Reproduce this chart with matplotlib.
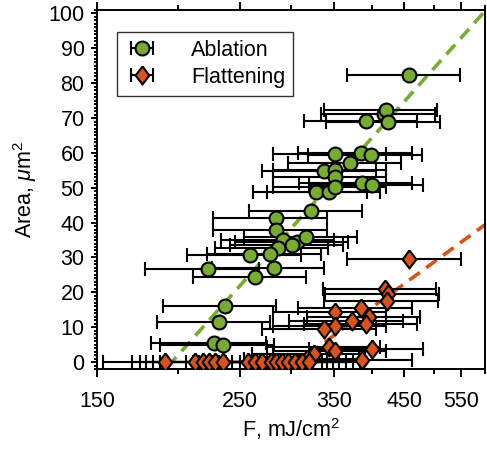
import numpy as np
import matplotlib
matplotlib.use("Agg")
import matplotlib.pyplot as plt
from matplotlib.ticker import FixedLocator, FixedFormatter, NullFormatter, MultipleLocator

plt.rcParams['font.family'] = ['Liberation Sans', 'DejaVu Sans']
plt.rcParams['mathtext.fontset'] = 'custom'
plt.rcParams['mathtext.rm'] = 'Liberation Sans'
plt.rcParams['mathtext.it'] = 'Liberation Sans:italic'

# ablation data (fluence, area, fluence error)
abl_F = [457, 418, 421, 425, 392,
         351, 385, 399, 371, 338, 351, 351, 386, 400, 328, 344, 351,
         322, 284, 284, 292, 307, 317, 301, 286, 259, 278, 223, 282, 264,
         237, 232, 228, 235]
abl_A = [82.3, 71.3, 72.3, 69.0, 69.1,
         59.6, 59.9, 59.4, 57.0, 54.9, 55.1, 53.2, 51.3, 50.7, 48.7, 48.9, 50.1,
         43.4, 41.3, 38.0, 35.1, 34.4, 35.9, 33.7, 32.8, 30.6, 30.9, 26.8, 27.1, 24.5,
         16.1, 11.6, 5.6, 4.9]
abl_err = [91, 84, 84, 85, 78,
           70, 77, 80, 74, 68, 70, 70, 77, 80, 66, 69, 70,
           64, 57, 57, 58, 61, 63, 60, 57, 52, 56, 45, 56, 53,
           47, 46, 46, 47]

# flattening data
fla_F = [458, 420, 424, 423, 351, 385, 373, 397, 351, 338, 392, 344, 351, 400, 326, 318, 386,
         191, 213, 219, 224, 229, 235, 257, 264, 270, 279, 284, 290, 297, 304, 312, 320]
fla_A = [29.6, 20.9, 19.4, 17.5, 14.3, 15.6, 11.9, 12.8, 10.4, 9.5, 11.0, 4.2, 3.2, 3.7, 2.4, 0.9, 0.5,
         0, 0, 0, 0, 0, 0, 0, 0, 0, 0, 0, 0, 0, 0, 0, 0]
fla_err = [92, 84, 85, 85, 70, 77, 75, 79, 70, 68, 78, 69, 70, 80, 65, 64, 77,
           38, 43, 44, 45, 46, 47, 51, 53, 54, 56, 57, 58, 59, 61, 62, 64]

# log fits: A = k * ln(F / F_th)
abl_k, abl_Fth = 90.0, 196.0
fla_k, fla_Fth = 58.8, 307.0

x_ticks = [150, 250, 350, 450, 550]
x_minor = [200, 300, 400, 500, 600]

green = '#77AC30'
orange = '#D95319'

fig = plt.figure(figsize=(4.87, 4.49), dpi=100)
ax = fig.add_axes([97/487, 1 - 369/449, 388/487, 359/449])

xa = np.linspace(193, 600, 200)
ax.plot(xa, abl_k * np.log(xa / abl_Fth), color=green, lw=2.6, ls=(0, (3.6, 2.2)), zorder=1)
xf = np.linspace(300, 600, 200)
ax.plot(xf, fla_k * np.log(xf / fla_Fth), color=orange, lw=2.6, ls=(0, (3.6, 2.2)), zorder=1)

diamond = [(0, 1), (0.76, 0), (0, -1), (-0.76, 0), (0, 1)]
eb = dict(ecolor='black', elinewidth=1.5, capsize=4.8, capthick=1.5)

ax.errorbar(abl_F, abl_A, xerr=abl_err, fmt='o', ms=10, mfc=green, mec='black', mew=1.5,
            label='Ablation', zorder=3, **eb)
ax.errorbar(fla_F, fla_A, xerr=fla_err, fmt='none', zorder=3, **eb)
ax.plot(fla_F, fla_A, ls='none', marker=diamond, ms=13, mfc=orange, mec='black', mew=1.5, zorder=4)
# legend entry for flattening
ax.errorbar([np.nan], [np.nan], xerr=[1], ls='none', marker=diamond, ms=13, mfc=orange,
            mec='black', mew=1.5, label='Flattening', **eb)

ax.set_xscale('log')
ax.set_xlim(150, 600)
ax.set_ylim(-2, 101)
ax.xaxis.set_major_locator(FixedLocator(x_ticks))
ax.xaxis.set_minor_locator(FixedLocator(x_minor))
ax.xaxis.set_major_formatter(FixedFormatter([str(t) for t in x_ticks]))
ax.xaxis.set_minor_formatter(NullFormatter())
ax.yaxis.set_major_locator(MultipleLocator(10))
ax.yaxis.set_minor_locator(MultipleLocator(1))

ax.tick_params(axis='x', which='both', direction='out', top=True, labelsize=15.5, width=1.4, pad=10)
ax.tick_params(axis='y', which='both', direction='out', right=False, labelsize=15.5, width=1.4, pad=5)
ax.tick_params(axis='x', which='major', length=5.5)
ax.tick_params(axis='x', which='minor', length=3.5)
ax.tick_params(axis='y', which='major', length=4)
ax.tick_params(axis='y', which='minor', length=2.5)
for s in ax.spines.values():
    s.set_linewidth(1.4)

ax.set_xlabel('F, mJ/cm$^2$', fontsize=15.5, labelpad=3)
ax.set_ylabel('Area, $\\mu$m$^2$', fontsize=15.5, labelpad=7)

leg = ax.legend(loc='upper left', bbox_to_anchor=(0.052, 0.94), borderaxespad=0, fontsize=15.5,
                fancybox=False, framealpha=1, edgecolor='#333333', handlelength=1.55,
                handletextpad=1.5, labelspacing=0.28, borderpad=0.38)
leg.get_frame().set_linewidth(1.0)

fig.savefig('out.png', dpi=100)
